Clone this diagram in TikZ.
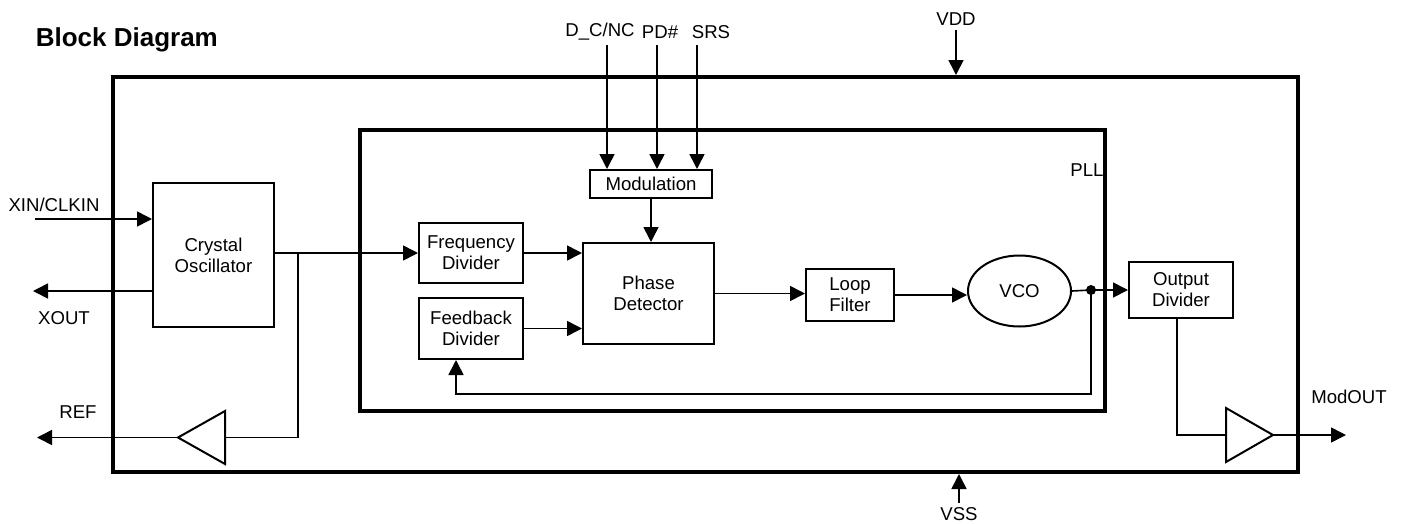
\documentclass[tikz,border=0pt]{standalone}
\usepackage{fontspec}
\setmainfont{Liberation Sans}
\usetikzlibrary{positioning, arrows.meta, shapes.geometric, calc}

\begin{document}
\begin{tikzpicture}[
    x=1pt, y=-1pt,
    font=\fontsize{18.6}{21}\selectfont,
    >={Triangle[length=15pt, width=15pt]},
    line width=1.6pt,
    block_box/.style={draw, line width=2pt, align=center, inner sep=0pt},
    frame_box/.style={draw, line width=4pt, inner sep=0pt},
    buf_tri/.style  ={draw, line width=2pt, line join=miter},
    pin_label/.style={inner sep=0pt}
]
\useasboundingbox (0,0) rectangle (1401,523);

% Title
\node[pin_label, anchor=west, font=\fontsize{26}{30}\selectfont\bfseries] (title) at (35,40) {Block Diagram};

% Frames
\node[frame_box, minimum width=1185pt, minimum height=395pt] (chip) at (705.5,274.5) {};
\node[frame_box, minimum width=745pt, minimum height=281pt] (pll) at (732.5,270.5) {};
\node[pin_label] (pll_label) at (1087,170) {PLL};

% Blocks
\node[block_box, minimum width=121pt, minimum height=144pt] (osc) at (213.5,255) {Crystal\\Oscillator};
\node[block_box, minimum width=104pt, minimum height=60pt] (fdiv) at (471,253) {Frequency\\Divider};
\node[block_box, minimum width=104pt, minimum height=61pt] (fbdiv) at (471,328.5) {Feedback\\Divider};
\node[block_box, minimum width=131pt, minimum height=101pt] (pd) at (648.5,293.5) {Phase\\Detector};
\node[block_box, minimum width=122pt, minimum height=28pt] (mod) at (651,184) {Modulation};
\node[block_box, minimum width=88pt, minimum height=52pt] (lf) at (850,295) {Loop\\Filter};
\node[block_box, ellipse, minimum width=103pt, minimum height=71pt] (vco) at (1019.5,291) {VCO};
\node[block_box, minimum width=104pt, minimum height=56pt] (odiv) at (1181,290) {Output\\Divider};

% Buffers
\coordinate (refbuf_in) at (225,437.5);
\coordinate (refbuf_out) at (178,437.5);
\draw[buf_tri] (225,411) -- (225,464) -- (refbuf_out) -- cycle;
\coordinate (outbuf_in) at (1226,435);
\coordinate (outbuf_out) at (1273,435);
\draw[buf_tri] (1226,408) -- (1226,462) -- (outbuf_out) -- cycle;

% Pins
\node[pin_label] (xin_label) at (54,205) {XIN/CLKIN};
\node[pin_label] (xout_label) at (64,318) {XOUT};
\node[pin_label] (ref_label) at (78,412) {REF};
\node[pin_label] (modout_label) at (1349,397) {ModOUT};
\node[pin_label] (vdd_label) at (956,19) {VDD};
\node[pin_label, anchor=south] (vss_label) at (959,521) {VSS};
\node[pin_label] (dcnc_label) at (600,32) {D\_C/NC};
\node[pin_label] (pdn_label) at (660,32) {PD\#};
\node[pin_label] (srs_label) at (711,32) {SRS};

\coordinate (xin) at (35,219);
\coordinate (xout) at (33,291);
\coordinate (ref) at (37,437.5);
\coordinate (modout) at (1346,435);
\coordinate (vdd) at (956,30);
\coordinate (vss) at (959,503);
\coordinate (dcnc) at (607,45);
\coordinate (pdn) at (657,45);
\coordinate (srs) at (697,45);

% Connectors
\draw[->] (xin) -- (xin -| osc.west);
\draw[->] (osc.west |- xout) -- (xout);
\draw[->] (vdd) -- (vdd |- chip.north);
\draw[->] (vss) -- (vss |- chip.south);
\draw[->] (dcnc) -- (dcnc |- mod.north);
\draw[->] (pdn) -- (pdn |- mod.north);
\draw[->] (srs) -- (srs |- mod.north);
\draw[->] (mod.south) -- (mod.south |- pd.north);

\coordinate (osc_tap) at (298,253);
\draw[->] (osc.east |- fdiv.west) -- (fdiv.west);
\draw (osc_tap) |- (refbuf_in);
\draw[->] (refbuf_out) -- (ref);

\draw[->] (fdiv.east) -- (fdiv.east -| pd.west);
\draw[->] (fbdiv.east) -- (fbdiv.east -| pd.west);
\draw[->] (pd.east) -- (pd.east -| lf.west);
\draw[->] (lf.east) -- (lf.east -| vco.west);

\coordinate (vco_tap) at (1091,290);
\coordinate (fb_corner) at (456,394);
\draw (vco.east) -- (vco_tap);
\fill (vco_tap) circle (5pt);
\draw[->] (vco_tap) -- (odiv.west);
\draw[->] (vco_tap) |- (fb_corner) -- (fb_corner |- fbdiv.south);

\draw (odiv.south -| 1177,0) |- (outbuf_in);
\draw[->] (outbuf_out) -- (modout);

\end{tikzpicture}
\end{document}
